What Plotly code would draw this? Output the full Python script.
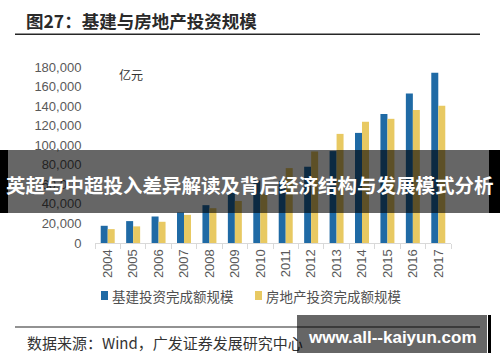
import plotly.graph_objects as go

# ---- data ----
years = ["2004", "2005", "2006", "2007", "2008", "2009", "2010",
         "2011", "2012", "2013", "2014", "2015", "2016", "2017"]
infra = [17600, 22400, 27100, 31200, 38700, 51600, 64000,
         63500, 78000, 94000, 112600, 132000, 152900, 174000]
realestate = [14200, 17000, 21700, 28800, 35600, 43000, 50000,
              76600, 93600, 111600, 124000, 127000, 136000, 140400]
y_ticks = [0, 20000, 40000, 60000, 80000, 100000, 120000, 140000, 160000, 180000]
series_names = ["基建投资完成额规模", "房地产投资完成额规模"]
colors = ["#1f6aa5", "#e8c962"]

W, H = 500, 362
L, R, T, B = 95, 49, 67, 119
PW, PH = W - L - R, H - T - B


def px(x):
    return (x - L) / PW


def py(y):
    return (H - B - y) / PH


fig = go.Figure()
fig.add_trace(go.Bar(x=years, y=infra, name=series_names[0],
                     marker=dict(color=colors[0], line=dict(width=0)), showlegend=False))
fig.add_trace(go.Bar(x=years, y=realestate, name=series_names[1],
                     marker=dict(color=colors[1], line=dict(width=0)), showlegend=False))

cjk = "Noto Sans CJK SC"
shapes = []
ann = []

# title and rules
ann.append(dict(text="<b>图27：基建与房地产投资规模</b>", x=px(24), y=py(21), xref="paper", yref="paper",
                xanchor="left", yanchor="middle", showarrow=False,
                font=dict(family=cjk, size=17.5, color="#2a2a2a")))
shapes.append(dict(type="line", xref="paper", yref="paper", x0=px(15), x1=px(480), y0=py(34.3), y1=py(34.3),
                   line=dict(color="#262626", width=1.5)))
shapes.append(dict(type="line", xref="paper", yref="paper", x0=px(15), x1=px(480), y0=py(327), y1=py(327),
                   line=dict(color="#262626", width=1.2)))

# unit label
ann.append(dict(text="亿元", x=px(117), y=py(74), xref="paper", yref="paper",
                xanchor="left", yanchor="middle", showarrow=False,
                font=dict(family=cjk, size=12, color="#333333")))

# manual legend
leg = [(101, colors[0], series_names[0]), (255, colors[1], series_names[1])]
for x0, c, name in leg:
    shapes.append(dict(type="rect", xref="paper", yref="paper", x0=px(x0), x1=px(x0 + 7),
                       y0=py(300), y1=py(291), fillcolor=c, line=dict(width=0)))
    ann.append(dict(text=name, x=px(x0 + 9), y=py(296), xref="paper", yref="paper",
                    xanchor="left", yanchor="middle", showarrow=False,
                    font=dict(family=cjk, size=13.5, color="#505050")))

# source
ann.append(dict(text="数据来源：Wind，广发证券发展研究中心", x=px(25), y=py(342), xref="paper", yref="paper",
                xanchor="left", yanchor="middle", showarrow=False,
                font=dict(family=cjk, size=15, color="#333333")))

# overlay banner
shapes.append(dict(type="rect", xref="paper", yref="paper", x0=px(0), x1=px(8), y0=py(213), y1=py(150),
                   fillcolor="black", line=dict(width=0), layer="above"))
shapes.append(dict(type="rect", xref="paper", yref="paper", x0=px(489), x1=px(500), y0=py(213), y1=py(150),
                   fillcolor="black", line=dict(width=0), layer="above"))
shapes.append(dict(type="rect", xref="paper", yref="paper", x0=px(8), x1=px(489), y0=py(213), y1=py(150),
                   fillcolor="rgba(0,0,0,0.6)", line=dict(width=0), layer="above"))
ann.append(dict(text="<b>英超与中超投入差异解读及背后经济结构与发展模式分析</b>", x=px(250), y=py(184),
                xref="paper", yref="paper", xanchor="center", yanchor="middle", showarrow=False,
                font=dict(family=cjk, size=19.5, color="white")))

# watermark
ann.append(dict(text=" ", x=px(392), y=py(334), xref="paper", yref="paper", xanchor="center", yanchor="middle",
                showarrow=False, width=190, height=38, bgcolor="rgba(0,0,0,0.6)", borderpad=0, borderwidth=0))
ann.append(dict(text="<b>www.all--kaiyun.com</b>", x=px(392), y=py(337), xref="paper", yref="paper",
                xanchor="center", yanchor="middle", showarrow=False,
                font=dict(family="Liberation Sans", size=17, color="white")))
shapes.append(dict(type="line", xref="paper", yref="paper", x0=px(489.5), x1=px(489.5), y0=py(353), y1=py(315),
                   line=dict(color="black", width=3)))

fig.update_layout(
    width=W, height=H, margin=dict(l=L, r=R, t=T, b=B, pad=0),
    paper_bgcolor="white", plot_bgcolor="white",
    barmode="group", bargap=0.45, bargroupgap=0,
    shapes=shapes, annotations=ann, showlegend=False, hovermode=False,
    font=dict(family="Liberation Sans", color="#595959", size=13),
)
fig.update_xaxes(type="category", showline=True, linecolor="#d9d9d9", linewidth=1,
                 ticks="outside", tickson="boundaries", ticklen=5, tickcolor="#d9d9d9",
                 tickangle=-90, tickfont=dict(family="Liberation Sans", size=13, color="#595959"),
                 showgrid=False)
fig.update_yaxes(range=[0, 180000], tickvals=y_ticks, tickformat=",", showgrid=False, showline=False,
                 zeroline=False, ticks="outside", ticklen=10, tickcolor="rgba(0,0,0,0)",
                 tickfont=dict(family="Liberation Sans", size=13, color="#595959"))

fig.write_html("out.html", config={"displayModeBar": False},
               post_script="document.body.style.margin='0';document.body.style.padding='0';")
